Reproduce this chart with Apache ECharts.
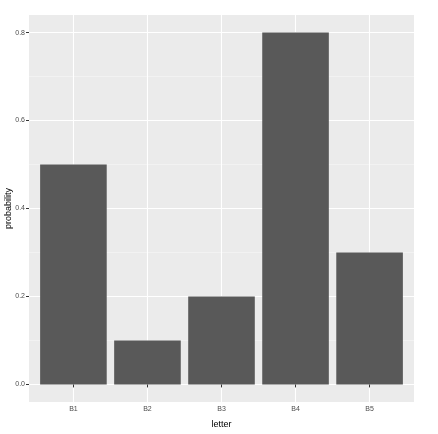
<!DOCTYPE html>
<html>
<head>
<meta charset="utf-8">
<script src="https://cdn.jsdelivr.net/npm/echarts@6/dist/echarts.min.js"></script>
<style>
  html, body { margin: 0; padding: 0; background: #fff; }
  #chart { width: 438px; height: 434px; }
</style>
</head>
<body>
<div id="chart"></div>
<script>
// data
var letters = ['B1', 'B2', 'B3', 'B4', 'B5'];
var probability = [0.5, 0.1, 0.2, 0.8, 0.3];
var yTicks = [0, 0.2, 0.4, 0.6, 0.8];
var yMinor = [0.1, 0.3, 0.5, 0.7];
var xPos = [1, 2, 3, 4, 5];

var chart = echarts.init(document.getElementById('chart'));
var font = 'Liberation Sans, Arial, sans-serif';

var barData = [];
for (var i = 0; i < letters.length; i++) {
  barData.push([xPos[i], probability[i]]);
}

var option = {
  backgroundColor: '#ffffff',
  animation: false,
  grid: {
    left: 29, right: 24, top: 15, bottom: 32,
    containLabel: false, outerBoundsMode: 'none',
    show: true, backgroundColor: '#EBEBEB', borderWidth: 0
  },
  xAxis: {
    type: 'value', min: 0.4, max: 5.6,
    name: 'letter', nameLocation: 'middle', nameGap: 18, nameMoveOverlap: false,
    nameTextStyle: { color: '#000', fontSize: 9, fontFamily: font },
    axisLine: { show: false },
    axisTick: { show: true, length: 3, customValues: xPos, lineStyle: { color: '#333333', width: 1 } },
    axisLabel: {
      customValues: xPos, color: '#4D4D4D', fontSize: 7, fontFamily: font, margin: 4,
      formatter: function (v) { return letters[Math.round(v) - 1] || ''; }
    },
    splitLine: { show: true, lineStyle: { color: '#ffffff', width: 1.1 } }
  },
  yAxis: [{
    type: 'value', min: -0.04, max: 0.84,
    name: 'probability', nameLocation: 'middle', nameGap: 16, nameMoveOverlap: false,
    nameTextStyle: { color: '#000', fontSize: 9, fontFamily: font },
    axisLine: { show: false },
    axisTick: { show: true, length: 3, customValues: yTicks, lineStyle: { color: '#333333', width: 1 } },
    axisLabel: {
      customValues: yTicks, color: '#4D4D4D', fontSize: 7, fontFamily: font, margin: 4,
      formatter: function (v) { return v.toFixed(1); }
    },
    splitLine: { show: true, lineStyle: { color: '#ffffff', width: 1.1 } }
  }, {
    type: 'value', min: -0.04, max: 0.84, position: 'left',
    axisLine: { show: false },
    axisTick: { show: false, customValues: yMinor },
    axisLabel: { show: false, customValues: yMinor },
    splitLine: { show: true, lineStyle: { color: '#F7F7F7', width: 0.6 } }
  }],
  series: [{
    type: 'bar',
    data: barData,
    barWidth: 66.6,
    itemStyle: { color: '#595959' },
    silent: true
  }]
};
chart.setOption(option);
</script>
</body>
</html>
